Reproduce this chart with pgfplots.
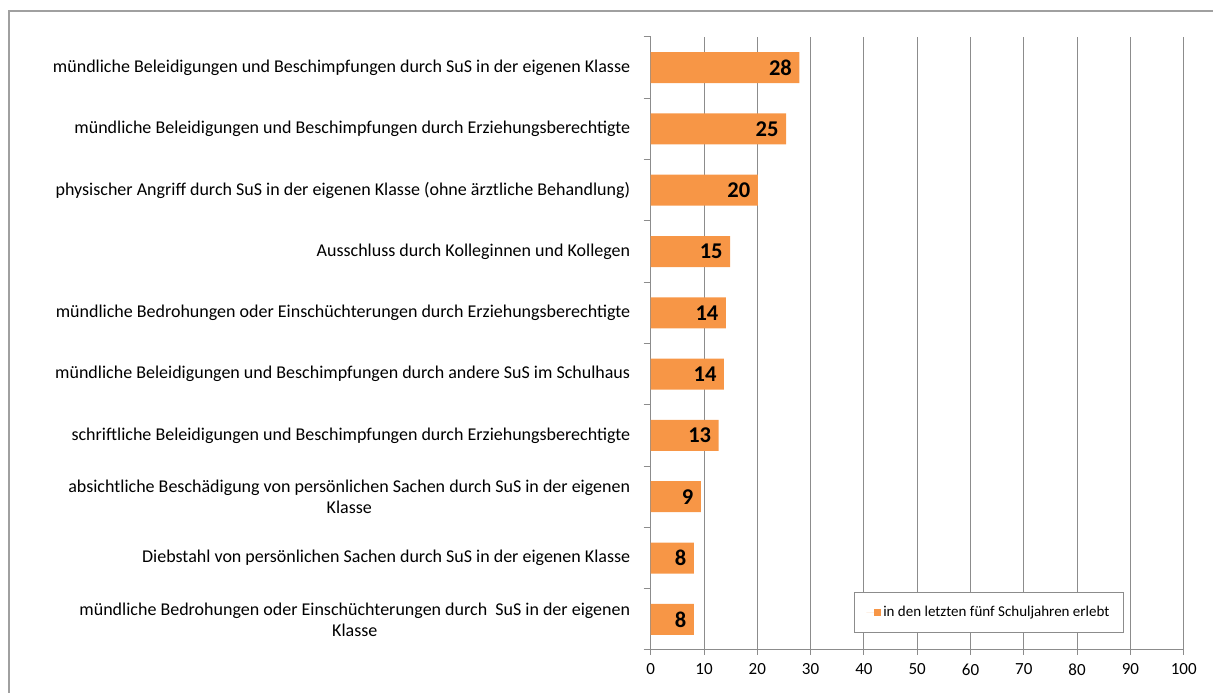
\documentclass[border=0pt]{standalone}
\usepackage{pgfplots}
\pgfplotsset{compat=1.18}
\usepackage{fontspec}
\setmainfont{Carlito}
\definecolor{barorange}{HTML}{F79646}
\definecolor{gridgray}{HTML}{8C8C8C}
\definecolor{framegray}{HTML}{A0A0A0}
\begin{document}
\begin{tikzpicture}[x=1pt,y=1pt]
\path[use as bounding box] (0,0) rectangle (1213,693);
\draw[framegray,line width=1.2pt] (9,0) -- (9,682) -- (1213,682);
\begin{axis}[
  at={(650.7pt,43pt)}, anchor=south west,
  scale only axis, width=533pt, height=613pt,
  xbar, bar width=31pt,
  xmin=0, xmax=100, ymin=-0.5, ymax=9.5,
  xtick={0,10,...,100},
  ytick={0,...,9},
  minor ytick={-0.5,0.5,...,9.5},
  yticklabels={
    {mündliche Bedrohungen oder Einschüchterungen durch\ \ SuS in der eigenen\\Klasse},
    {Diebstahl von persönlichen Sachen durch SuS in der eigenen Klasse},
    {absichtliche Beschädigung von persönlichen Sachen durch SuS in der eigenen\\Klasse},
    {schriftliche Beleidigungen und Beschimpfungen durch Erziehungsberechtigte},
    {mündliche Beleidigungen und Beschimpfungen durch andere SuS im Schulhaus},
    {mündliche Bedrohungen oder Einschüchterungen durch Erziehungsberechtigte},
    {Ausschluss durch Kolleginnen und Kollegen},
    {physischer Angriff durch SuS in der eigenen Klasse (ohne ärztliche Behandlung)},
    {mündliche Beleidigungen und Beschimpfungen durch Erziehungsberechtigte},
    {mündliche Beleidigungen und Beschimpfungen durch SuS in der eigenen Klasse}
  },
  yticklabel style={align=center, font=\fontsize{18}{21}\selectfont, xshift=-12pt},
  xticklabel style={font=\fontsize{17}{20}\selectfont, yshift=-5pt},
  /pgf/number format/assume math mode=true,
  axis x line*=bottom, axis y line*=left,
  axis line style={gridgray, line width=1pt},
  tick align=outside,
  major tick length=5pt, minor tick length=7pt,
  ytick style={draw=none},
  minor y tick style={draw=gridgray, line width=1pt},
  x tick style={draw=gridgray, line width=1pt},
  xmajorgrids, major grid style={gridgray, line width=1pt},
  nodes near coords={\pgfmathprintnumber[fixed,precision=0]{\pgfplotspointmeta}},
  every node near coord/.append style={anchor=east, xshift=-4pt, font=\fontsize{22.5}{25}\bfseries\selectfont, text=black},
  legend style={at={(0.381,0.028)}, anchor=south west, draw=gridgray, line width=1pt,
    font=\fontsize{15}{18}\selectfont, inner xsep=12pt, inner ysep=12pt},
  legend image code/.code={\path (0pt,0pt) -- (8pt,0pt); \fill[barorange] (8pt,-3.5pt) rectangle (15pt,3.5pt);},
  clip=false,
]
\addplot[fill=barorange, draw=none] coordinates {
  (8.1,0) (8.1,1) (9.4,2) (12.75,3) (13.75,4) (14.1,5) (14.9,6) (20.1,7) (25.4,8) (27.9,9)
};
\addlegendentry{in den letzten fünf Schuljahren erlebt}
\end{axis}
\end{tikzpicture}
\end{document}
